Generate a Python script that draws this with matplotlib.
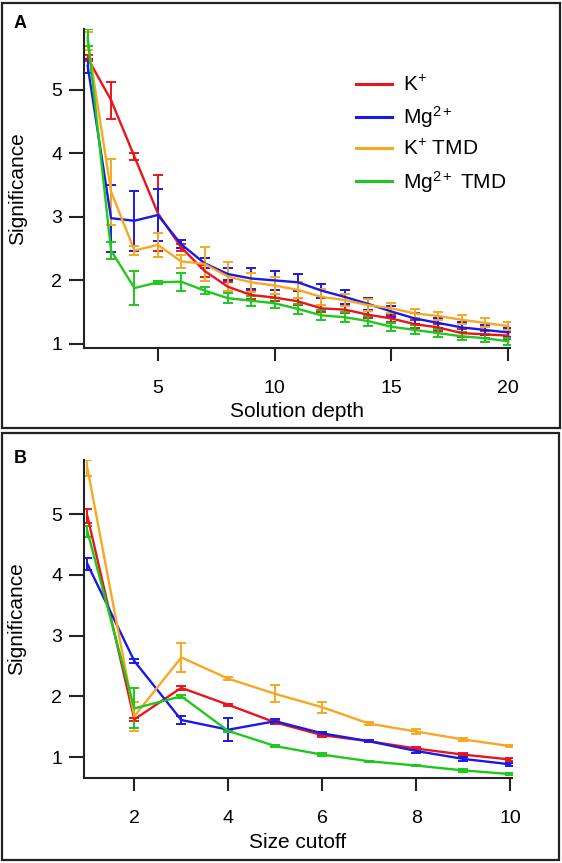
import matplotlib
matplotlib.use("Agg")
import matplotlib.pyplot as plt
from matplotlib.patches import Rectangle
from matplotlib.lines import Line2D

plt.rcParams['font.family'] = ['Liberation Sans', 'DejaVu Sans']
plt.rcParams['mathtext.fontset'] = 'custom'
plt.rcParams['mathtext.rm'] = 'Liberation Sans'
plt.rcParams['mathtext.it'] = 'Liberation Sans'
plt.rcParams['mathtext.default'] = 'regular'

# ---------------- data: panel A ----------------
depth = list(range(2, 21))
a_red = [5.50, 4.84, 3.95, 3.06, 2.52, 2.15, 1.90, 1.77, 1.73, 1.67, 1.56, 1.54, 1.46, 1.40, 1.31, 1.26, 1.17, 1.15, 1.13]
a_red_err = [0.05, 0.29, 0.05, 0.60, 0.05, 0.10, 0.07, 0.06, 0.06, 0.06, 0.06, 0.06, 0.06, 0.06, 0.06, 0.06, 0.06, 0.05, 0.05]
a_blue = [5.38, 2.98, 2.94, 3.03, 2.57, 2.27, 2.10, 2.03, 2.00, 1.97, 1.84, 1.74, 1.63, 1.51, 1.40, 1.33, 1.26, 1.22, 1.18]
a_blue_err = [0.11, 0.53, 0.47, 0.41, 0.06, 0.08, 0.10, 0.17, 0.15, 0.13, 0.11, 0.11, 0.10, 0.08, 0.08, 0.08, 0.08, 0.08, 0.07]
a_orange = [5.77, 3.40, 2.47, 2.56, 2.30, 2.26, 2.06, 1.97, 1.92, 1.85, 1.74, 1.69, 1.61, 1.56, 1.48, 1.44, 1.38, 1.33, 1.28]
a_orange_err = [0.14, 0.52, 0.07, 0.19, 0.10, 0.27, 0.23, 0.15, 0.13, 0.13, 0.12, 0.10, 0.09, 0.08, 0.07, 0.06, 0.07, 0.07, 0.06]
a_green = [5.83, 2.47, 1.88, 1.97, 1.98, 1.84, 1.72, 1.68, 1.64, 1.55, 1.45, 1.42, 1.36, 1.27, 1.22, 1.17, 1.12, 1.09, 1.04]
a_green_err = [0.13, 0.14, 0.27, 0.02, 0.14, 0.06, 0.08, 0.08, 0.08, 0.08, 0.08, 0.08, 0.08, 0.06, 0.07, 0.06, 0.06, 0.06, 0.05]

# ---------------- data: panel B ----------------
cutoff = list(range(1, 11))
b_red = [4.97, 1.62, 2.14, 1.86, 1.57, 1.36, 1.26, 1.14, 1.04, 0.96]
b_red_err = [0.11, 0.02, 0.03, 0.02, 0.03, 0.03, 0.02, 0.03, 0.03, 0.03]
b_blue = [4.18, 2.58, 1.61, 1.45, 1.59, 1.39, 1.26, 1.10, 0.97, 0.88]
b_blue_err = [0.10, 0.04, 0.06, 0.19, 0.03, 0.03, 0.02, 0.03, 0.03, 0.03]
b_orange = [5.76, 1.67, 2.64, 2.29, 2.04, 1.82, 1.55, 1.42, 1.29, 1.18]
b_orange_err = [0.13, 0.24, 0.24, 0.02, 0.14, 0.09, 0.02, 0.04, 0.02, 0.02]
b_green = [4.72, 1.80, 2.00, 1.43, 1.18, 1.04, 0.93, 0.86, 0.78, 0.72]
b_green_err = [0.09, 0.33, 0.02, 0.02, 0.02, 0.02, 0.01, 0.01, 0.02, 0.02]

labels = ['K$^{+}$', 'Mg$^{2+}$', 'K$^{+}$ TMD', 'Mg$^{2+}$ TMD']
colors = ['#e8161b', '#1a1ae6', '#f7a823', '#1ec81e']

W, H = 562, 863
fig = plt.figure(figsize=(W / 100, H / 100), dpi=100)

def px_axes(left, top, right, bottom):
    return fig.add_axes([left / W, 1 - bottom / H, (right - left) / W, (bottom - top) / H])

axA = px_axes(84.3, 29, 509.7, 347.7)
axB = px_axes(84.3, 460, 511.5, 778)

def draw(ax, x, series, errs):
    for y, e, c in zip(series, errs, colors):
        ax.errorbar(x, y, yerr=e, color=c, lw=1.7, elinewidth=1.4,
                    capsize=3.3, capthick=1.4)

draw(axA, depth, [a_red, a_blue, a_orange, a_green],
     [a_red_err, a_blue_err, a_orange_err, a_green_err])
draw(axB, cutoff, [b_red, b_blue, b_orange, b_green],
     [b_red_err, b_blue_err, b_orange_err, b_green_err])

axA.set_xlim(1.855, 20.06)
axA.set_ylim(0.94, 5.96)
axA.set_xticks([5, 10, 15, 20])
axA.set_yticks([1, 2, 3, 4, 5])
axA.set_xlabel('Solution depth', fontsize=15, labelpad=4)
axA.set_ylabel('Significance', fontsize=15, va='center')

axB.set_xlim(0.935, 10.03)
axB.set_ylim(0.655, 5.89)
axB.set_xticks([2, 4, 6, 8, 10])
axB.set_yticks([1, 2, 3, 4, 5])
axB.set_xlabel('Size cutoff', fontsize=15, labelpad=4)
axB.set_ylabel('Significance', fontsize=15, va='center')

for ax in (axA, axB):
    for s in ('top', 'right'):
        ax.spines[s].set_visible(False)
    for s in ('left', 'bottom'):
        ax.spines[s].set_linewidth(1.5)
        ax.spines[s].set_color('#222222')
    ax.tick_params(axis='both', direction='out', width=1.5, color='#222222',
                   labelsize=14)
    ax.tick_params(axis='y', length=11, pad=5)
    ax.tick_params(axis='x', length=9, pad=14)
    ax.patch.set_alpha(0)
    ax.yaxis.set_label_coords(-(84.3 - 17) / 426.0, 0.5)

handles = [Line2D([], [], color=c, lw=2.2) for c in colors]
axA.legend(handles, labels, loc='upper left',
           bbox_to_anchor=(356 / W, 1 - 75 / H),
           bbox_transform=fig.transFigure, frameon=False, fontsize=15,
           handlelength=1.75, handletextpad=0.5, labelspacing=0.44,
           borderpad=0, borderaxespad=0)

# panel borders
fig.patches.append(Rectangle((2 / W, 1 - 428 / H), 558 / W, 425 / H,
                             transform=fig.transFigure, fill=False,
                             lw=1.6, edgecolor='#222222'))
fig.patches.append(Rectangle((2 / W, 1 - 860 / H), 557 / W, 427 / H,
                             transform=fig.transFigure, fill=False,
                             lw=1.6, edgecolor='#222222'))

fig.text(14 / W, 1 - 23 / H, 'A', fontsize=13, fontweight='bold',
         ha='left', va='center')
fig.text(14 / W, 1 - 458 / H, 'B', fontsize=13, fontweight='bold',
         ha='left', va='center')

fig.savefig('out.png', dpi=100)
